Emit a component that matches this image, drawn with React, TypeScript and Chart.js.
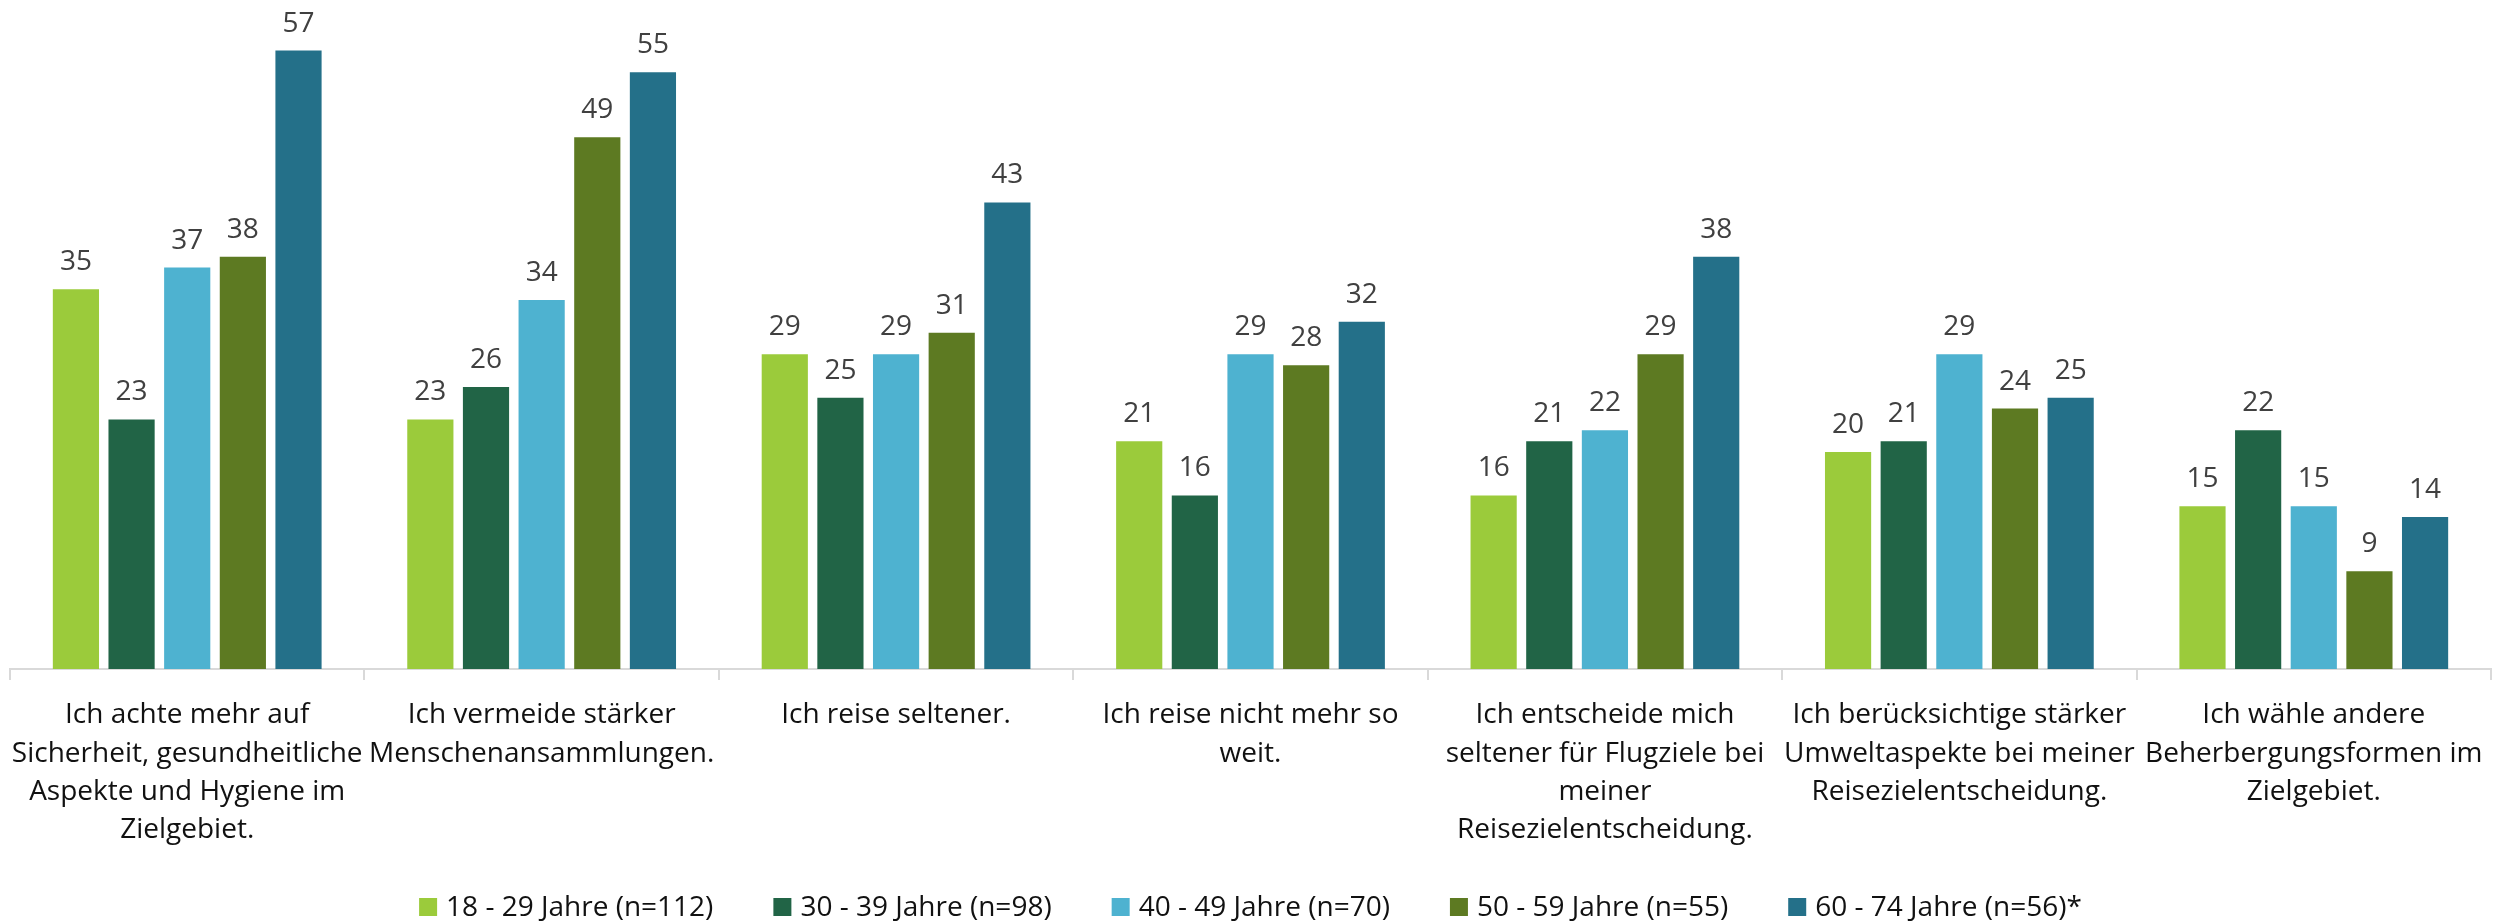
import React, { useEffect, useRef } from "react";
import { Chart, registerables } from "chart.js";

Chart.register(...registerables);

const categories: string[][] = [
  ["Ich achte mehr auf", "Sicherheit, gesundheitliche", "Aspekte und Hygiene im", "Zielgebiet."],
  ["Ich vermeide stärker", "Menschenansammlungen."],
  ["Ich reise seltener."],
  ["Ich reise nicht mehr so", "weit."],
  ["Ich entscheide mich", "seltener für Flugziele bei", "meiner", "Reisezielentscheidung."],
  ["Ich berücksichtige stärker", "Umweltaspekte bei meiner", "Reisezielentscheidung."],
  ["Ich wähle andere", "Beherbergungsformen im", "Zielgebiet."],
];

const seriesLabels = [
  "18 - 29 Jahre (n=112)",
  "30 - 39 Jahre (n=98)",
  "40 - 49 Jahre (n=70)",
  "50 - 59 Jahre (n=55)",
  "60 - 74 Jahre (n=56)*",
];

const age18to29 = [35, 23, 29, 21, 16, 20, 15];
const age30to39 = [23, 26, 25, 16, 21, 21, 22];
const age40to49 = [37, 34, 29, 29, 22, 29, 15];
const age50to59 = [38, 49, 31, 28, 29, 24, 9];
const age60to74 = [57, 55, 43, 32, 38, 25, 14];

const seriesColors = ["#9BCB3B", "#216446", "#4EB2D0", "#5D7A22", "#247089"];

const FONT = "'Open Sans', 'DejaVu Sans', sans-serif";

const dataLabelPlugin = {
  id: "dataLabels",
  afterDatasetsDraw(chart: any) {
    const ctx = chart.ctx;
    ctx.save();
    ctx.font = `28px ${FONT}`;
    ctx.fillStyle = "#404040";
    ctx.textAlign = "center";
    ctx.textBaseline = "alphabetic";
    chart.data.datasets.forEach((ds: any, i: number) => {
      const meta = chart.getDatasetMeta(i);
      meta.data.forEach((el: any, j: number) => {
        ctx.fillText(String(ds.data[j]), el.x, el.y - 19);
      });
    });
    ctx.restore();
  },
};

// Legend drawn from the chart's own datasets (labels + colours)
const bottomLegendPlugin = {
  id: "bottomLegend",
  afterDraw(chart: any) {
    const ctx = chart.ctx;
    const box = 18;
    const boxGap = 9;
    const itemGap = 60;
    const baseline = 916;
    ctx.save();
    ctx.font = `28px ${FONT}`;
    const items = chart.data.datasets.map((ds: any) => {
      const w = ctx.measureText(ds.label).width;
      return { label: ds.label, color: ds.backgroundColor, w: box + boxGap + w };
    });
    const total = items.reduce((s: number, it: any) => s + it.w, 0) + itemGap * (items.length - 1);
    const center = (chart.chartArea.left + chart.chartArea.right) / 2;
    let x = center - total / 2;
    ctx.textAlign = "left";
    ctx.textBaseline = "alphabetic";
    items.forEach((it: any) => {
      ctx.fillStyle = it.color;
      ctx.fillRect(x, baseline - box, box, box);
      ctx.fillStyle = "#111111";
      ctx.fillText(it.label, x + box + boxGap, baseline);
      x += it.w + itemGap;
    });
    ctx.restore();
  },
};

export default function App() {
  const ref = useRef<HTMLCanvasElement | null>(null);

  useEffect(() => {
    if (!ref.current) return;
    const all = [age18to29, age30to39, age40to49, age50to59, age60to74];
    const chart = new Chart(ref.current, {
      type: "bar",
      data: {
        labels: categories,
        datasets: all.map((d, i) => ({
          label: seriesLabels[i],
          data: d,
          backgroundColor: seriesColors[i],
          borderWidth: 0,
          barPercentage: 0.83,
          categoryPercentage: 0.785,
        })),
      },
      options: {
        responsive: false,
        animation: false,
        layout: { padding: { top: 18, left: 10, right: 5, bottom: 64 } },
        plugins: {
          tooltip: { enabled: false },
          legend: { display: false },
        },
        scales: {
          y: { display: false, min: 0, max: 60 },
          x: {
            offset: true,
            grid: {
              offset: true,
              drawOnChartArea: false,
              drawTicks: true,
              tickLength: 11,
              color: "#d9d9d9",
              lineWidth: 2,
            },
            border: { display: true, color: "#d9d9d9", width: 2 },
            ticks: {
              autoSkip: false,
              maxRotation: 0,
              minRotation: 0,
              padding: 16,
              color: "#111111",
              font: { family: FONT, size: 28, lineHeight: 1.37 },
            },
            afterFit: (scale: any) => {
              scale.height = 190;
              scale.paddingLeft = 0;
              scale.paddingRight = 0;
            },
          },
        },
      },
      plugins: [dataLabelPlugin, bottomLegendPlugin],
    });
    return () => chart.destroy();
  }, []);

  return (
    <canvas
      ref={ref}
      width={2496}
      height={923}
      style={{ position: "fixed", left: 0, top: 0, display: "block", background: "#ffffff" }}
    />
  );
}
